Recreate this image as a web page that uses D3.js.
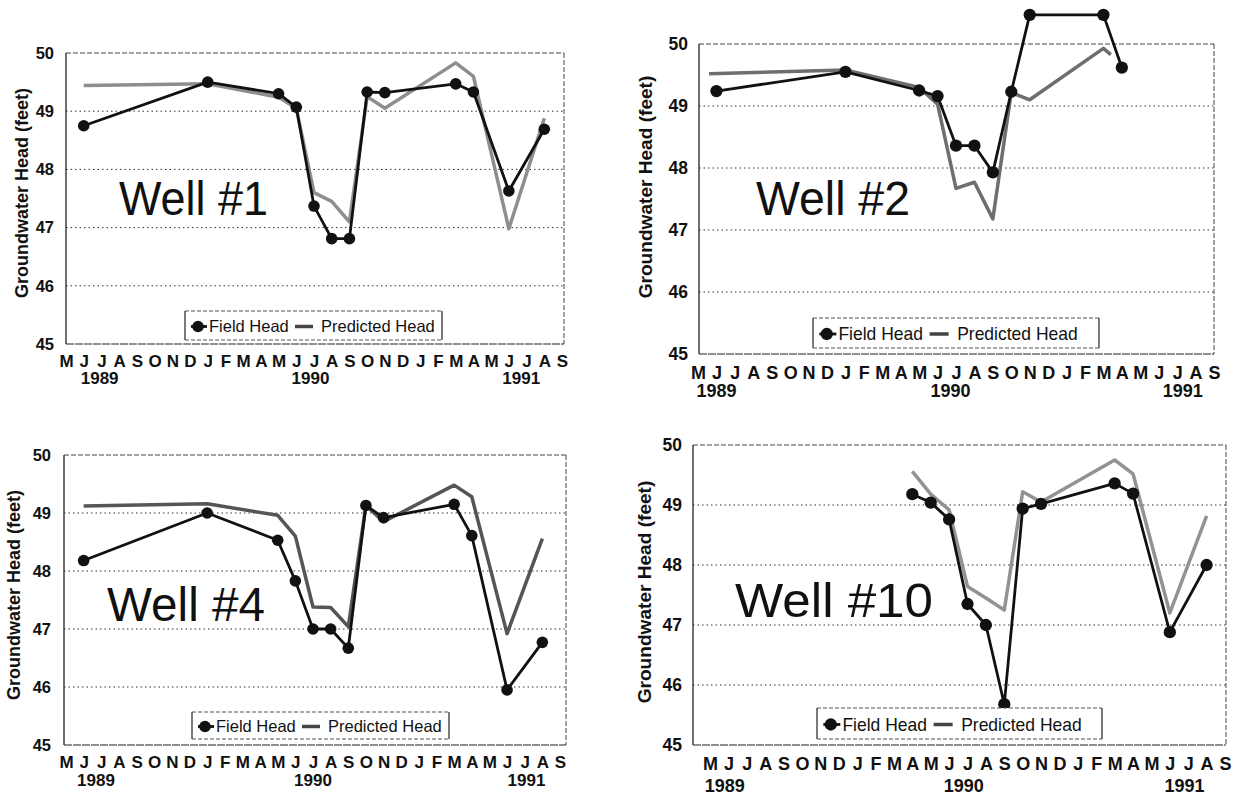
<!DOCTYPE html>
<html>
<head>
<meta charset="utf-8">
<script src="https://cdn.jsdelivr.net/npm/d3@7"></script>
<style>
  body { margin: 0; background: #fff; }
  text { font-family: "Liberation Sans", Arial, Helvetica, sans-serif; fill: #111; }
</style>
</head>
<body>
<div id="graph"></div>
<script>
const svgWidth = 1241;
const svgHeight = 796;

// axis labels
const monthLabels = ['M','J','J','A','S','O','N','D','J','F','M','A','M','J','J','A','S','O','N','D','J','F','M','A','M','J','J','A','S'];
const yearLabels = ['1989', '1990', '1991'];
const yTicks = [45, 46, 47, 48, 49, 50];
const gridValues = [46, 47, 48, 49];
const seriesNames = ['Field Head', 'Predicted Head'];
const axisTitle = 'Groundwater Head (feet)';

// month index 0 = May 1989
// Well #1
const well1FieldMonths = [1, 8, 12, 13, 14, 15, 16, 17, 18, 22, 23, 25, 27];
const well1Field = [48.75, 49.5, 49.3, 49.07, 47.37, 46.81, 46.81, 49.33, 49.32, 49.47, 49.33, 47.63, 48.69];
const well1PredMonths = [1, 8, 12, 13, 14, 15, 16, 17, 18, 22, 23, 25, 27];
const well1Pred = [49.44, 49.47, 49.24, 49.05, 47.6, 47.45, 47.1, 49.25, 49.05, 49.83, 49.6, 46.98, 48.88];

// Well #2
const well2FieldMonths = [1, 8, 12, 13, 14, 15, 16, 17, 18, 22, 23];
const well2Field = [49.24, 49.55, 49.25, 49.16, 48.36, 48.36, 47.93, 49.23, 50.47, 50.47, 49.62];
const well2PredMonths = [0.6, 8, 12, 13, 14, 15, 16, 17, 18, 22, 22.4];
const well2Pred = [49.52, 49.58, 49.3, 49.03, 47.67, 47.77, 47.18, 49.22, 49.1, 49.93, 49.83];

// Well #4
const well4FieldMonths = [1, 8, 12, 13, 14, 15, 16, 17, 18, 22, 23, 25, 27];
const well4Field = [48.18, 49.0, 48.53, 47.83, 47.0, 47.0, 46.67, 49.13, 48.92, 49.15, 48.61, 45.95, 46.77];
const well4PredMonths = [1, 8, 12, 13, 14, 15, 16, 17, 18, 22, 23, 25, 27];
const well4Pred = [49.12, 49.16, 48.96, 48.6, 47.38, 47.37, 47.04, 49.13, 48.85, 49.48, 49.28, 46.92, 48.56];

// Well #10
const well10FieldMonths = [11, 12, 13, 14, 15, 16, 17, 18, 22, 23, 25, 27];
const well10Field = [49.18, 49.04, 48.76, 47.35, 47.0, 45.68, 48.94, 49.02, 49.36, 49.19, 46.88, 48.0];
const well10PredMonths = [11, 12, 13, 14, 15, 16, 17, 18, 22, 23, 25, 27];
const well10Pred = [49.56, 49.18, 48.92, 47.64, 47.45, 47.25, 49.22, 49.05, 49.75, 49.52, 47.2, 48.82];

const zip = (ms, vs) => ms.map((m, i) => ({ m: m, v: vs[i] }));

// layout of the four charts
const panels = [
  { label: 'Well #1', field: zip(well1FieldMonths, well1Field), pred: zip(well1PredMonths, well1Pred),
    left: 66, right: 564, top: 53, bottom: 344, monthRange: [66, 562], yearAt: [1.9, 13.8, 25.7],
    monthY: 367, yearY: 384, tickRight: 54, titleX: 22, titleY: 193, fs: 1,
    wellX: 119, wellY: 215, wellW: 149, legend: { x: 185, y: 311, w: 257, h: 29 }, predColor: '#8e8e8e' },
  { label: 'Well #2', field: zip(well2FieldMonths, well2Field), pred: zip(well2PredMonths, well2Pred),
    left: 699, right: 1214, top: 44, bottom: 354, monthRange: [698, 1214], yearAt: [1.0, 13.7, 26.3],
    monthY: 379, yearY: 397, tickRight: 688, titleX: 645, titleY: 187, fs: 1.06,
    wellX: 756, wellY: 215, wellW: 154, legend: { x: 813, y: 318, w: 286, h: 30 }, predColor: '#6e6e6e' },
  { label: 'Well #4', field: zip(well4FieldMonths, well4Field), pred: zip(well4PredMonths, well4Pred),
    left: 64, right: 566, top: 455, bottom: 745, monthRange: [66, 560], yearAt: [1.7, 14.0, 26.1],
    monthY: 768, yearY: 786, tickRight: 51, titleX: 14, titleY: 595, fs: 1,
    wellX: 107, wellY: 621, wellW: 158, legend: { x: 192, y: 712, w: 257, h: 27 }, predColor: '#555555' },
  { label: 'Well #10', field: zip(well10FieldMonths, well10Field), pred: zip(well10PredMonths, well10Pred),
    left: 693, right: 1226, top: 445, bottom: 745, monthRange: [710, 1225], yearAt: [0.8, 13.8, 25.8],
    monthY: 770, yearY: 792, tickRight: 682, titleX: 644, titleY: 592, fs: 1.06,
    wellX: 735, wellY: 617, wellW: 198, legend: { x: 817, y: 708, w: 285, h: 31 }, predColor: '#929292' }
];

const svg = d3.select('#graph')
  .append('svg')
  .attr('width', svgWidth)
  .attr('height', svgHeight)
  .style('background', '#fff');

function drawPanel(p) {
  const g = svg.append('g').attr('class', 'panel');

  const x = d3.scaleLinear()
    .domain([0, monthLabels.length - 1])
    .range(p.monthRange);

  const y = d3.scaleLinear()
    .domain([45, 50])
    .range([p.bottom, p.top]);

  // dotted grid
  g.selectAll('.grid')
    .data(gridValues)
    .enter().append('line')
    .attr('x1', p.left).attr('x2', p.right)
    .attr('y1', d => y(d)).attr('y2', d => y(d))
    .attr('stroke', '#333').attr('stroke-width', 1)
    .attr('stroke-dasharray', '1.5,3');

  // frame: top/right dashed, left/bottom solid
  g.append('line').attr('x1', p.left).attr('x2', p.right).attr('y1', y(50)).attr('y2', y(50))
    .attr('stroke', '#444').attr('stroke-width', 1).attr('stroke-dasharray', '5,2');
  g.append('line').attr('x1', p.right).attr('x2', p.right).attr('y1', y(50)).attr('y2', y(45))
    .attr('stroke', '#444').attr('stroke-width', 1).attr('stroke-dasharray', '5,2');
  g.append('line').attr('x1', p.left).attr('x2', p.right).attr('y1', y(45)).attr('y2', y(45))
    .attr('stroke', '#222').attr('stroke-width', 1.2).attr('stroke-dasharray', '8,1');
  g.append('line').attr('x1', p.left).attr('x2', p.left).attr('y1', y(50)).attr('y2', y(45))
    .attr('stroke', '#222').attr('stroke-width', 1.3);

  // y axis labels
  const yAxis = g.append('g')
    .attr('transform', `translate(${p.left}, 0)`)
    .call(d3.axisLeft(y).tickValues(yTicks).tickFormat(d3.format('d')).tickSize(0).tickPadding(p.left - p.tickRight));
  yAxis.select('.domain').remove();
  yAxis.selectAll('text')
    .style('font-family', '"Liberation Sans", Arial, sans-serif')
    .style('font-weight', 'bold')
    .style('font-size', (16.5 * p.fs) + 'px')
    .attr('fill', '#111');

  // month labels
  const xAxis = g.append('g')
    .attr('transform', `translate(0, ${p.monthY})`)
    .call(d3.axisBottom(x).tickValues(d3.range(monthLabels.length)).tickFormat(i => monthLabels[i]).tickSize(0));
  xAxis.select('.domain').remove();
  xAxis.selectAll('text')
    .attr('y', 0).attr('dy', 0)
    .style('font-family', '"Liberation Sans", Arial, sans-serif')
    .style('font-weight', 'bold')
    .style('font-size', (17 * p.fs) + 'px')
    .attr('fill', '#111');

  // year labels
  g.selectAll('.year')
    .data(yearLabels)
    .enter().append('text')
    .attr('x', (d, i) => x(p.yearAt[i]))
    .attr('y', p.yearY)
    .attr('text-anchor', 'middle')
    .style('font-weight', 'bold')
    .style('font-size', (17 * p.fs) + 'px')
    .text(d => d);

  // axis title
  g.append('text')
    .attr('transform', `translate(${p.titleX}, ${p.titleY}) rotate(-90)`)
    .attr('text-anchor', 'middle')
    .attr('dy', '0.35em')
    .style('font-weight', 'bold')
    .style('font-size', (18 * p.fs) + 'px')
    .text(axisTitle);

  // well label
  g.append('text')
    .attr('x', p.wellX)
    .attr('y', p.wellY)
    .attr('textLength', p.wellW)
    .attr('lengthAdjust', 'spacingAndGlyphs')
    .style('font-size', '48px')
    .text(p.label);

  const line = d3.line()
    .x(d => x(d.m))
    .y(d => y(d.v));

  // predicted
  g.append('path')
    .attr('d', line(p.pred))
    .attr('fill', 'none')
    .attr('stroke', p.predColor)
    .attr('stroke-width', 3.5)
    .attr('stroke-linejoin', 'round');

  // field
  g.append('path')
    .attr('d', line(p.field))
    .attr('fill', 'none')
    .attr('stroke', '#111')
    .attr('stroke-width', 2.8)
    .attr('stroke-linejoin', 'round');

  g.selectAll('.pt')
    .data(p.field)
    .enter().append('circle')
    .attr('cx', d => x(d.m))
    .attr('cy', d => y(d.v))
    .attr('r', 5.8 * p.fs)
    .attr('fill', '#111');

  // legend
  const L = p.legend;
  const lg = g.append('g').attr('transform', `translate(${L.x}, ${L.y})`);
  lg.append('rect').attr('width', L.w).attr('height', L.h).attr('fill', '#fff');
  lg.append('line').attr('x1', 0).attr('x2', L.w).attr('y1', 0).attr('y2', 0)
    .attr('stroke', '#555').attr('stroke-dasharray', '4,2');
  lg.append('line').attr('x1', 0).attr('x2', L.w).attr('y1', L.h).attr('y2', L.h)
    .attr('stroke', '#555').attr('stroke-dasharray', '4,2');
  lg.append('line').attr('x1', 0).attr('x2', 0).attr('y1', 0).attr('y2', L.h).attr('stroke', '#222').attr('stroke-width', 1.2);
  lg.append('line').attr('x1', L.w).attr('x2', L.w).attr('y1', 0).attr('y2', L.h).attr('stroke', '#222').attr('stroke-width', 1.2);

  const s = p.fs;
  const my = L.h / 2 + 1;
  lg.append('line').attr('x1', 6 * s).attr('x2', 22 * s).attr('y1', my).attr('y2', my)
    .attr('stroke', '#111').attr('stroke-width', 2.8);
  lg.append('circle').attr('cx', 13 * s).attr('cy', my).attr('r', 5.8 * s).attr('fill', '#111');
  lg.append('text').attr('x', 24 * s).attr('y', my).attr('dy', '0.36em')
    .style('font-size', (16.5 * s) + 'px').text(seriesNames[0]);

  lg.append('line').attr('x1', 110 * s).attr('x2', 128 * s).attr('y1', my).attr('y2', my)
    .attr('stroke', '#444').attr('stroke-width', 3.5);
  lg.append('text').attr('x', 136 * s).attr('y', my).attr('dy', '0.36em')
    .style('font-size', (16.5 * s) + 'px').text(seriesNames[1]);
}

panels.forEach(drawPanel);
</script>
</body>
</html>
